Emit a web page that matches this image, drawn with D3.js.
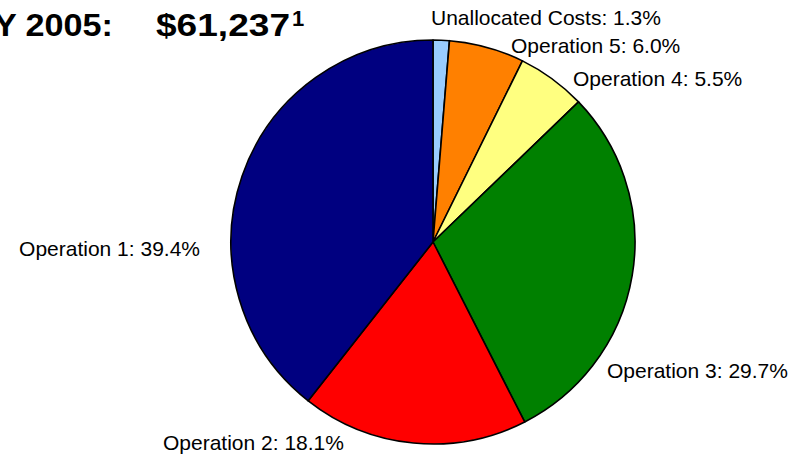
<!DOCTYPE html>
<html>
<head>
<meta charset="utf-8">
<script src="https://cdn.jsdelivr.net/npm/d3@7"></script>
<style>
  html, body { margin: 0; padding: 0; background: #fff; }
  svg { display: block; }
  text { font-family: "Liberation Sans", Arial, Helvetica, sans-serif; fill: #000; }
</style>
</head>
<body>
<svg id="chart" width="805" height="457"></svg>
<script>
// Cost shares, listed clockwise from 12 o'clock
const categories = ["Unallocated Costs", "Operation 5", "Operation 4", "Operation 3", "Operation 2", "Operation 1"];
const shares = [1.3, 6.0, 5.5, 29.7, 18.1, 39.4];
const colors = ["#99CCFF", "#FF8000", "#FFFF80", "#008000", "#FF0000", "#000080"];
const titleYear = "FY 2005:";
const titleTotal = "$61,237";
const titleNote = "1";

// Label placement: x, baseline y, anchor
const labelLayout = [
  [431, 25, "start"],
  [511, 53, "start"],
  [573, 86, "start"],
  [607, 378, "start"],
  [163, 450, "start"],
  [200, 256, "end"]
];

const svg = d3.select("#chart");
const cx = 433, cy = 242, radius = 202;

const pie = d3.pie().sort(null).value(d => d.value);
const arc = d3.arc().innerRadius(0).outerRadius(radius);

const data = categories.map((c, i) => ({ name: c, value: shares[i], color: colors[i] }));

const g = svg.append("g").attr("transform", `translate(${cx},${cy})`);
g.selectAll("path")
  .data(pie(data))
  .join("path")
  .attr("d", arc)
  .attr("fill", d => d.data.color)
  .attr("stroke", "#000")
  .attr("stroke-width", 1.6)
  .attr("stroke-linejoin", "round");

// Slice labels
svg.selectAll("text.lbl")
  .data(data)
  .join("text")
  .attr("class", "lbl")
  .attr("x", (d, i) => labelLayout[i][0])
  .attr("y", (d, i) => labelLayout[i][1])
  .attr("text-anchor", (d, i) => labelLayout[i][2])
  .style("font-size", "21px")
  .text(d => `${d.name}: ${d.value.toFixed(1)}%`);

// Title: fiscal year and total, runs off the left edge
svg.append("text")
  .attr("x", -27).attr("y", 36)
  .attr("textLength", 140).attr("lengthAdjust", "spacingAndGlyphs")
  .style("font-size", "31px").style("font-weight", "bold")
  .text(titleYear);
svg.append("text")
  .attr("x", 156).attr("y", 36)
  .attr("textLength", 134).attr("lengthAdjust", "spacingAndGlyphs")
  .style("font-size", "31px").style("font-weight", "bold")
  .text(titleTotal);
svg.append("text")
  .attr("x", 292).attr("y", 26)
  .style("font-size", "22px").style("font-weight", "bold")
  .text(titleNote);
</script>
</body>
</html>
